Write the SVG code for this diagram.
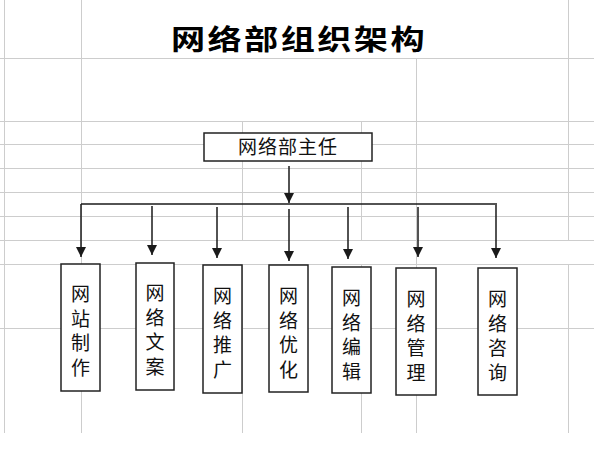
<svg xmlns="http://www.w3.org/2000/svg" width="609" height="462" viewBox="0 0 609 462">
<style>
.grid line{stroke:#cdcdcd;stroke-width:1}
.box{fill:#fff;stroke:#222;stroke-width:1.5}
.lbl{font-family:"Noto Sans CJK SC","Noto Sans",sans-serif;font-size:19px;fill:#111;text-anchor:middle}
.title{font-family:"Noto Sans CJK SC","Noto Sans",sans-serif;font-size:28px;font-weight:bold;fill:#000;text-anchor:middle}
.conn line{stroke:#1a1a1a;stroke-width:1.5}
</style>
<defs>
<marker id="ah" markerUnits="userSpaceOnUse" markerWidth="10" markerHeight="10" refX="9" refY="4.5" orient="auto" viewBox="0 0 9 9">
<path d="M0,0 L9,4.5 L0,9 z" fill="#1a1a1a"/>
</marker>
</defs>
<rect width="609" height="462" fill="#fff"/>
<g class="grid">
<line x1="0" y1="58.5" x2="594" y2="58.5"/>
<line x1="0" y1="121.5" x2="594" y2="121.5"/>
<line x1="0" y1="144.5" x2="594" y2="144.5"/>
<line x1="0" y1="168.5" x2="594" y2="168.5"/>
<line x1="0" y1="192.5" x2="594" y2="192.5"/>
<line x1="0" y1="216.5" x2="594" y2="216.5"/>
<line x1="0" y1="240.5" x2="594" y2="240.5"/>
<line x1="0" y1="264.5" x2="594" y2="264.5"/>
<line x1="0" y1="328.5" x2="594" y2="328.5"/>
<line x1="4.5" y1="0" x2="4.5" y2="433"/>
<line x1="81.5" y1="0" x2="81.5" y2="433"/>
<line x1="568.5" y1="0" x2="568.5" y2="240"/>
<line x1="568.5" y1="264" x2="568.5" y2="433"/>
<line x1="416.5" y1="58" x2="416.5" y2="433"/>
<line x1="242.5" y1="121" x2="242.5" y2="240"/>
<line x1="242.5" y1="264" x2="242.5" y2="433"/>
<line x1="361.5" y1="121" x2="361.5" y2="240"/>
<line x1="361.5" y1="264" x2="361.5" y2="433"/>
</g>
<g id="title">
<text class="title" transform="translate(299,50) scale(1.22,1)" letter-spacing="2">网络部组织架构</text>
</g>
<g class="conn" id="connectors">
<line x1="289" y1="166" x2="289" y2="203" marker-end="url(#ah)"/>
<line x1="81" y1="204" x2="497" y2="204"/>
<line x1="81" y1="204" x2="81" y2="257" marker-end="url(#ah)"/>
<line x1="152" y1="206" x2="152" y2="255" marker-end="url(#ah)"/>
<line x1="217" y1="207" x2="217" y2="258" marker-end="url(#ah)"/>
<line x1="289" y1="209" x2="289" y2="261" marker-end="url(#ah)"/>
<line x1="348" y1="207" x2="348" y2="259" marker-end="url(#ah)"/>
<line x1="418" y1="207" x2="418" y2="257" marker-end="url(#ah)"/>
<line x1="496" y1="205" x2="496" y2="258" marker-end="url(#ah)"/>
</g>
<g id="director">
<rect class="box" x="204" y="133" width="168" height="28"/>
<text class="lbl" x="288" y="154" letter-spacing="1">网络部主任</text>
</g>
<g id="n1">
<rect class="box" x="61" y="264" width="39" height="127"/>
<text class="lbl" x="80.5" y="301"><tspan x="80.5">网</tspan><tspan x="80.5" dy="24.5">站</tspan><tspan x="80.5" dy="24.5">制</tspan><tspan x="80.5" dy="24.5">作</tspan></text>
</g>
<g id="n2">
<rect class="box" x="136" y="263" width="38" height="127"/>
<text class="lbl" x="155" y="300"><tspan x="155">网</tspan><tspan x="155" dy="24.5">络</tspan><tspan x="155" dy="24.5">文</tspan><tspan x="155" dy="24.5">案</tspan></text>
</g>
<g id="n3">
<rect class="box" x="203" y="265" width="39" height="128"/>
<text class="lbl" x="222.5" y="303"><tspan x="222.5">网</tspan><tspan x="222.5" dy="24.5">络</tspan><tspan x="222.5" dy="24.5">推</tspan><tspan x="222.5" dy="24.5">广</tspan></text>
</g>
<g id="n4">
<rect class="box" x="269" y="265" width="39" height="127"/>
<text class="lbl" x="288.5" y="303"><tspan x="288.5">网</tspan><tspan x="288.5" dy="24.5">络</tspan><tspan x="288.5" dy="24.5">优</tspan><tspan x="288.5" dy="24.5">化</tspan></text>
</g>
<g id="n5">
<rect class="box" x="332" y="267" width="39" height="126"/>
<text class="lbl" x="351.5" y="305"><tspan x="351.5">网</tspan><tspan x="351.5" dy="24.5">络</tspan><tspan x="351.5" dy="24.5">编</tspan><tspan x="351.5" dy="24.5">辑</tspan></text>
</g>
<g id="n6">
<rect class="box" x="396" y="268" width="40" height="127"/>
<text class="lbl" x="416" y="306"><tspan x="416">网</tspan><tspan x="416" dy="24.5">络</tspan><tspan x="416" dy="24.5">管</tspan><tspan x="416" dy="24.5">理</tspan></text>
</g>
<g id="n7">
<rect class="box" x="478" y="268" width="39" height="127"/>
<text class="lbl" x="497.5" y="306"><tspan x="497.5">网</tspan><tspan x="497.5" dy="24.5">络</tspan><tspan x="497.5" dy="24.5">咨</tspan><tspan x="497.5" dy="24.5">询</tspan></text>
</g>
</svg>
